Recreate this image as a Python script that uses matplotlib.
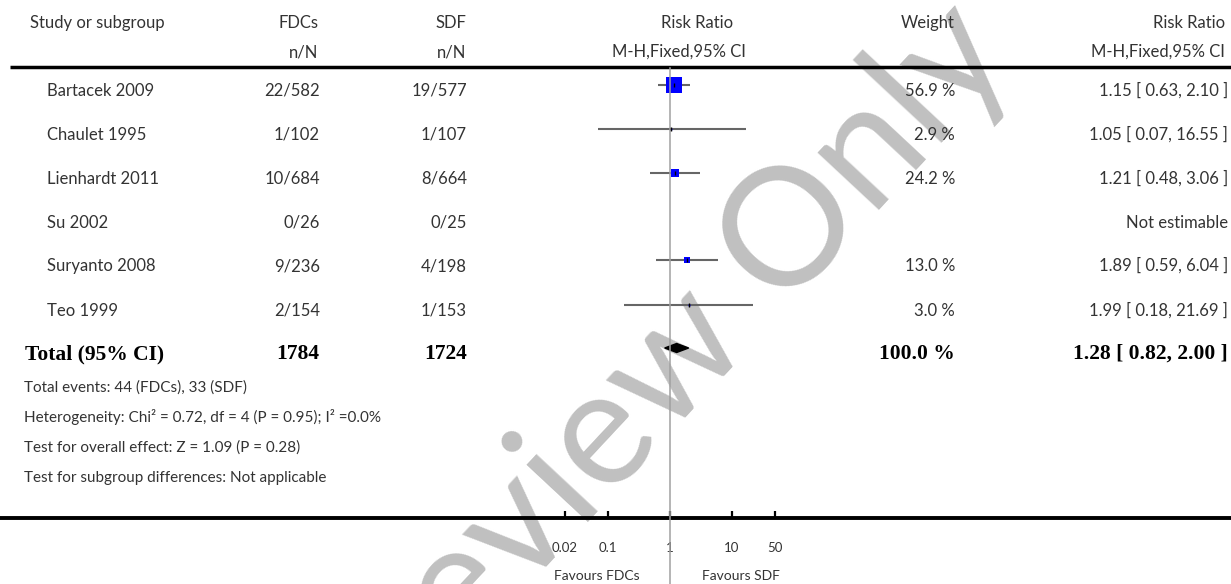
import matplotlib
matplotlib.use('Agg')
import matplotlib.pyplot as plt
from matplotlib.ticker import NullLocator

# ---------------- data ----------------
studies = ["Bartacek 2009", "Chaulet 1995", "Lienhardt 2011", "Su 2002", "Suryanto 2008", "Teo 1999"]
fdc_events = [22, 1, 10, 0, 9, 2]
fdc_total = [582, 102, 684, 26, 236, 154]
sdf_events = [19, 1, 8, 0, 4, 1]
sdf_total = [577, 107, 664, 25, 198, 153]
weights = [56.9, 2.9, 24.2, None, 13.0, 3.0]
rr = [1.15, 1.05, 1.21, None, 1.89, 1.99]
rr_lo = [0.63, 0.07, 0.48, None, 0.59, 0.18]
rr_hi = [2.10, 16.55, 3.06, None, 6.04, 21.69]
total_label = "Total (95% CI)"
total_fdc = 1784
total_sdf = 1724
total_weight = 100.0
pooled = 1.28
pooled_lo = 0.82
pooled_hi = 2.00
footnotes = [
    "Total events: 44 (FDCs), 33 (SDF)",
    "Heterogeneity: Chi\u00b2 = 0.72, df = 4 (P = 0.95); I\u00b2 =0.0%",
    "Test for overall effect: Z = 1.09 (P = 0.28)",
    "Test for subgroup differences: Not applicable",
]
axis_ticks = [0.02, 0.1, 1, 10, 50]
axis_tick_labels = ["0.02", "0.1", "1", "10", "50"]
favours_left = "Favours FDCs"
favours_right = "Favours SDF"
watermark = "Review Only"

# ---------------- layout ----------------
W, H = 1231, 584
FONT = 'Lato'
TXT = '#333333'
fs = 12
row_y = [85, 129, 173, 217, 260, 305]
total_y = 348

fig = plt.figure(figsize=(W / 100, H / 100), dpi=100)

tx = fig.add_axes([0, 0, 1, 1])
tx.set_xlim(0, W)
tx.set_ylim(H, 0)
tx.axis('off')
tx.patch.set_visible(False)

fx = fig.add_axes([0, 0, 1, 1])
fx.set_xscale('log')
fx.set_xlim(10 ** (-670 / 62), 10 ** ((W - 670) / 62))
fx.set_ylim(H, 0)
fx.patch.set_visible(False)
for s in ['top', 'left', 'right']:
    fx.spines[s].set_visible(False)
fx.spines['bottom'].set_position(('data', 518))
fx.spines['bottom'].set_linewidth(2.8)
fx.set_yticks([])
fx.set_xticks(axis_ticks)
fx.set_xticklabels(axis_tick_labels, fontsize=9.5, family=FONT, color=TXT)
fx.xaxis.set_minor_locator(NullLocator())
fx.tick_params(axis='x', direction='in', length=5, width=1.6, pad=17)

# watermark
tx.text(672, 364, watermark, fontsize=118, family=FONT, color='#c0c0c0',
        rotation=47, ha='center', va='center', zorder=0.5,
        rotation_mode='anchor')

def t(x, y, s, ha='left', **kw):
    kw.setdefault('family', FONT)
    kw.setdefault('fontsize', fs)
    kw.setdefault('color', TXT)
    tx.text(x, y, s, ha=ha, va='baseline', zorder=3, **kw)

# header
t(30, 28, "Study or subgroup")
t(318, 28, "FDCs", ha='right')
t(318, 57, "n/N", ha='right')
t(466, 28, "SDF", ha='right')
t(466, 57, "n/N", ha='right')
t(697, 28, "Risk Ratio", ha='center')
t(679, 57, "M-H,Fixed,95% CI", ha='center')
t(955, 28, "Weight", ha='right')
t(1225, 28, "Risk Ratio", ha='right')
t(1225, 57, "M-H,Fixed,95% CI", ha='right')
tx.plot([10, W], [67, 67], color='black', lw=2.5, solid_capstyle='butt', zorder=3)

# rows
for i, name in enumerate(studies):
    y = row_y[i] + 11
    t(47, y, name)
    t(320, y, f"{fdc_events[i]}/{fdc_total[i]}", ha='right')
    t(467, y, f"{sdf_events[i]}/{sdf_total[i]}", ha='right')
    if weights[i] is not None:
        t(955, y, f"{weights[i]:.1f} %", ha='right')
        t(1228, y, f"{rr[i]:.2f} [ {rr_lo[i]:.2f}, {rr_hi[i]:.2f} ]", ha='right')
    else:
        t(1228, y, "Not estimable", ha='right')

# total row
bold = dict(family='Liberation Serif', fontweight='bold', fontsize=15.5, color='black')
yb = total_y + 11
t(25, yb, total_label, **bold)
t(319, yb, f"{total_fdc}", ha='right', **bold)
t(467, yb, f"{total_sdf}", ha='right', **bold)
t(955, yb, f"{total_weight:.1f} %", ha='right', **bold)
t(1228, yb, f"{pooled:.2f} [ {pooled_lo:.2f}, {pooled_hi:.2f} ]", ha='right', **bold)

# footnotes
for k, line in enumerate(footnotes):
    t(24, 392 + 30 * k, line, fontsize=11)

# forest marks
fx.plot([1, 1], [68, H], color='#a0a0a0', lw=1.1, zorder=4, clip_on=False)
for i in range(len(studies)):
    if rr[i] is None:
        continue
    y = row_y[i]
    fx.plot([rr_lo[i], rr_hi[i]], [y, y], color='#666666', lw=1.5, zorder=2,
            solid_capstyle='butt')
    side_px = 0.82 * weights[i] ** 0.75
    fx.plot([rr[i]], [y], marker='s', markersize=side_px * 0.72, color='#0000ff',
            markeredgewidth=0, linestyle='none', zorder=3)
    fx.plot([rr[i]], [y], marker='|', markersize=3.5, color='black',
            markeredgewidth=1.0, linestyle='none', zorder=5)

fx.fill([pooled_lo, pooled, pooled_hi, pooled],
        [total_y, total_y - 4.5, total_y, total_y + 4.5], color='black', zorder=3)

tx.text(640, 580, favours_left, ha='right', va='baseline', fontsize=10, family=FONT,
        color=TXT)
tx.text(702, 580, favours_right, ha='left', va='baseline', fontsize=10, family=FONT,
        color=TXT)

fig.savefig('out.png', dpi=100)
